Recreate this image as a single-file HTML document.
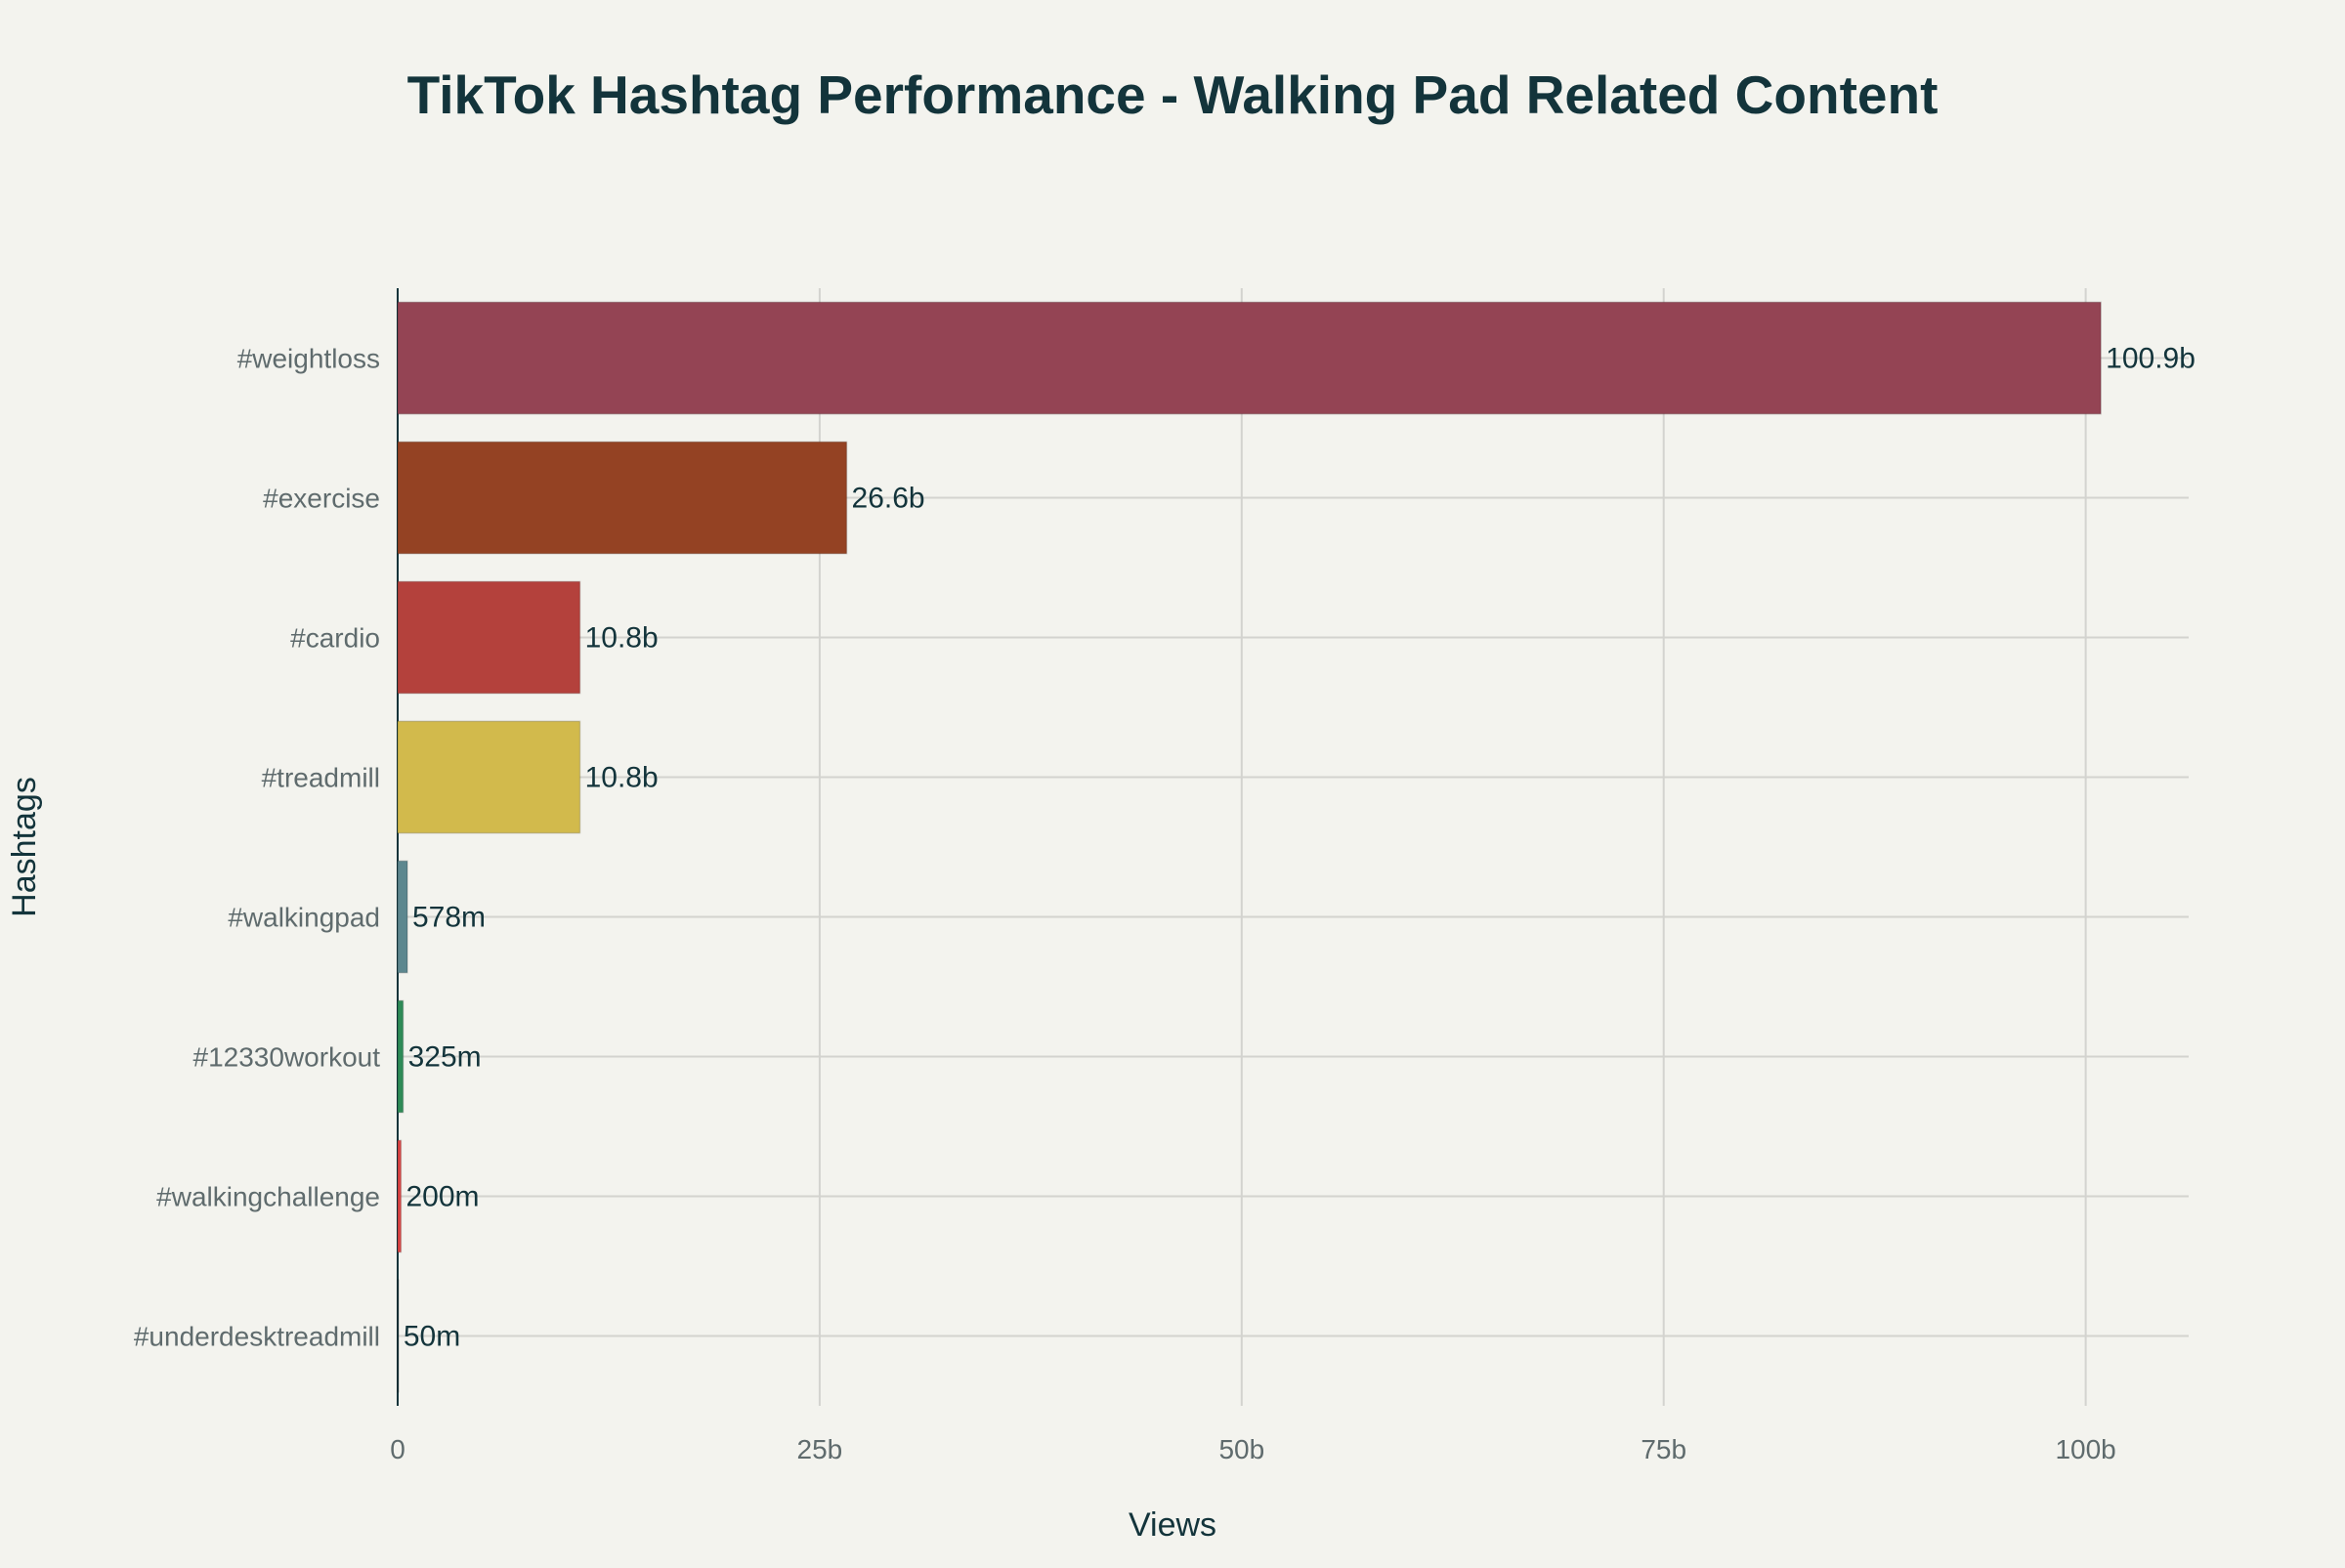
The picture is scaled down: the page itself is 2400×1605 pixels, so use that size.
<!DOCTYPE html>
<html><head><meta charset="utf-8"><style>
html,body{margin:0;padding:0;background:#F3F3EE;}
svg text{font-family:"Liberation Sans",sans-serif;}
</style></head><body>
<svg id="chart" width="2400" height="1600" xmlns="http://www.w3.org/2000/svg">
<rect width="2400" height="1600" fill="#F3F3EE"/>
<text x="1200" y="116" text-anchor="middle" font-size="55" font-weight="bold" fill="#13343B">TikTok Hashtag Performance - Walking Pad Related Content</text>
<g id="grid"></g><g id="bars"></g><g id="labels"></g>
<text x="1200" y="1572" text-anchor="middle" font-size="34" fill="#13343B">Views</text>
<text transform="translate(36,867) rotate(-90)" text-anchor="middle" font-size="34" fill="#13343B">Hashtags</text>
</svg>
<script>
const categories=["#weightloss","#exercise","#cardio","#treadmill","#walkingpad","#12330workout","#walkingchallenge","#underdesktreadmill"];
const values=[100.9,26.6,10.8,10.8,0.578,0.325,0.2,0.05];
const valueLabels=["100.9b","26.6b","10.8b","10.8b","578m","325m","200m","50m"];
const colors=["#944454","#944223","#B4413C","#D2BA4C","#5D878F","#2E8B57","#DB4545","#13343B"];
const xTicks=[0,25,50,75,100];
const xTickLabels=["0","25b","50b","75b","100b"];
const NS="http://www.w3.org/2000/svg";
const L=407,R=2240,T=295,B=1439,XMAX=106.1;
const xs=v=>L+(v/XMAX)*(R-L);
const band=(B-T)/categories.length;
const yc=i=>T+band*(i+0.5);
function mk(tag,attrs,parent){const e=document.createElementNS(NS,tag);for(const k in attrs)e.setAttribute(k,attrs[k]);parent.appendChild(e);return e;}
const grid=document.getElementById('grid'),bars=document.getElementById('bars'),labels=document.getElementById('labels');
xTicks.forEach((t,i)=>{
  if(t!==0){const g=mk('line',{x1:xs(t),x2:xs(t),y1:T,y2:B,stroke:"#D3D3CF","stroke-width":2},grid);
  
  }
  const tx=mk('text',{x:xs(t),y:1493,"text-anchor":"middle","font-size":28,fill:"#5F6B6D"},labels);
  tx.textContent=xTickLabels[i];
  
  
});
categories.forEach((c,i)=>{
  const g=mk('line',{x1:L,x2:R,y1:yc(i),y2:yc(i),stroke:"#D3D3CF","stroke-width":2},grid);
  
  
  const h=band*0.8;
  const r=mk('rect',{x:L,y:yc(i)-h/2,width:Math.max(xs(values[i])-L,1),height:h,fill:colors[i],stroke:"rgba(0,0,0,0.15)","stroke-width":1.5},bars);
  
  
  const lt=mk('text',{x:L-18,y:yc(i)+10,"text-anchor":"end","font-size":28,fill:"#5F6B6D"},labels);
  lt.textContent=c;
  
  
  const vt=mk('text',{x:xs(values[i])+5,y:yc(i)+10,"font-size":30,fill:"#13343B"},labels);
  vt.textContent=valueLabels[i];
  
  
});
const z=mk('line',{x1:L,x2:L,y1:T,y2:B,stroke:"#13343B","stroke-width":2},grid);


</script>
</body></html>
